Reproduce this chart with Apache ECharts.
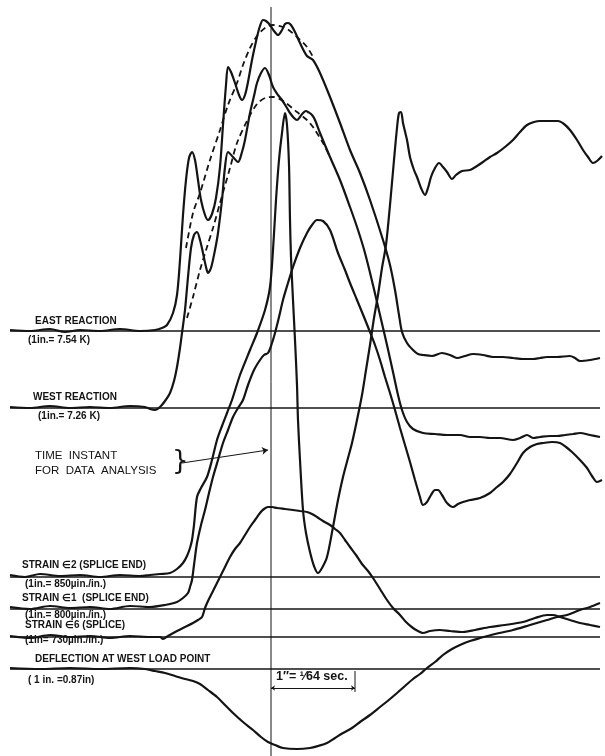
<!DOCTYPE html>
<html>
<head>
<meta charset="utf-8">
<script src="https://cdn.jsdelivr.net/npm/echarts@6/dist/echarts.min.js"></script>
<style>
html,body{margin:0;padding:0;background:#fff;}
#c{width:605px;height:756px;}
</style>
</head>
<body>
<div id="c"></div>
<script>
// Time axis: picture time units (x), trace level (y, measured downward)
var eastReaction = [[10,330],[30,331],[50,329],[65,332],[80,330],[100,331],[120,329],[140,331],[155,330],[162,328],[167,325],[173,313],[177,295],[180,260],[183,215],[186,180],[189,158],[192,152],[195,160],[198,180],[201,200],[205,215],[208,220],[212,214],[216,198],[220,167],[223,125],[226,85],[228,67],[231,72],[235,83],[239,95],[242,100],[245,95],[248,82],[252,60],[257,37],[260,26],[263,20],[266,21],[270,25],[274,31],[278,35],[282,30],[285,24],[288,23],[291,25],[295,32],[300,43],[307,56],[313,60],[320,73],[330,97],[340,123],[350,150],[360,173],[370,200],[383,240],[390,265],[395,290],[399,315],[402,332],[407,343],[413,350],[418,354],[423,355],[432,356],[442,353],[450,355],[457,358],[465,356],[473,354],[483,355],[493,357],[503,357],[513,358],[523,359],[533,359],[540,358],[547,357],[557,357],[570,356],[575,358],[580,361],[590,360],[600,358]];
var westReaction = [[10,407],[30,408],[50,406],[70,408],[90,407],[110,408],[130,406],[145,407],[150,409],[155,410],[160,407],[165,401],[170,393],[174,381],[177,367],[180,348],[182,333],[185,310],[188,277],[191,248],[194,235],[197,232],[200,240],[203,253],[206,267],[208,273],[211,268],[215,250],[218,233],[222,200],[225,167],[228,152],[233,157],[238,162],[242,152],[245,140],[250,113],[254,96],[257,83],[261,73],[265,68],[269,75],[273,87],[278,95],[282,100],[287,108],[290,113],[294,118],[297,120],[300,117],[303,113],[306,111],[308,112],[312,115],[315,120],[320,133],[330,157],[340,180],[350,207],[358,230],[365,253],[373,285],[380,315],[387,345],[393,372],[398,395],[402,410],[407,422],[413,429],[423,433],[435,434],[447,435],[460,435],[470,437],[480,437],[490,438],[500,438],[513,440],[520,438],[527,435],[533,438],[540,437],[550,436],[557,436],[565,435],[573,434],[580,433],[590,435],[600,437]];
var eastEnvelope = [[186,248],[193,213],[200,193],[210,160],[220,130],[228,105],[237,83],[243,65],[250,48],[257,36],[265,28],[273,25],[283,27],[290,31],[297,37],[307,47],[313,57]];
var westEnvelope = [[187,318],[193,297],[200,270],[207,247],[213,228],[220,203],[230,168],[237,143],[247,121],[257,104],[265,98],[273,97],[283,101],[297,112],[307,120],[313,127],[323,143],[330,157]];
var strainE2 = [[10,575],[25,577],[40,574],[60,576],[80,575],[100,577],[120,575],[140,576],[150,575],[160,574],[170,573],[177,569],[183,563],[187,556],[190,548],[192,540],[194,525],[197,497],[201,488],[207,477],[212,460],[217,440],[222,426],[227,413],[232,400],[240,375],[250,350],[257,333],[265,310],[270,287],[273,250],[276,200],[279,160],[282,133],[285,113],[287,125],[289,165],[290,220],[291,257],[293,300],[295,340],[297,385],[298,420],[300,460],[303,510],[306,533],[310,552],[314,566],[318,573],[322,568],[327,557],[333,527],[338,500],[343,477],[348,458],[352,443],[357,420],[362,395],[366,370],[370,345],[374,318],[378,295],[382,268],[386,245],[390,205],[394,160],[397,128],[399,113],[401,112],[403,123],[407,140],[410,157],[414,170],[417,177],[421,188],[425,195],[428,188],[431,177],[435,168],[439,163],[443,167],[447,172],[452,179],[456,175],[462,171],[470,170],[477,166],[483,162],[490,157],[497,153],[505,147],[513,140],[520,132],[527,125],[534,122],[540,121],[550,121],[558,121],[564,124],[570,130],[577,140],[583,150],[588,157],[593,163],[597,161],[602,156]];
var strainE1 = [[10,607],[30,609],[50,606],[70,608],[90,607],[110,609],[130,606],[150,607],[165,605],[177,602],[183,598],[188,593],[190,587],[192,580],[194,565],[197,543],[201,525],[205,510],[209,493],[213,477],[218,460],[223,443],[228,430],[233,417],[238,408],[243,400],[248,385],[254,370],[260,360],[264,355],[268,353],[272,343],[275,333],[279,317],[283,300],[288,283],[293,267],[300,248],[307,233],[312,225],[317,220],[323,221],[330,230],[338,253],[345,270],[350,283],[357,300],[364,317],[370,332],[375,345],[380,360],[385,377],[390,393],[395,410],[400,428],[405,445],[410,462],[415,480],[420,497],[423,505],[427,502],[431,495],[435,490],[438,490],[442,495],[447,503],[453,507],[458,504],[463,502],[470,500],[480,498],[490,493],[497,487],[503,482],[510,474],[517,463],[523,453],[530,447],[537,444],[543,443],[552,442],[560,443],[566,447],[572,452],[580,460],[587,468],[592,476],[597,482],[602,480]];
var strainE6 = [[10,636],[30,638],[50,635],[70,637],[90,636],[110,638],[130,636],[150,637],[160,637],[163,639],[168,636],[177,631],[185,627],[193,623],[198,620],[202,617],[205,608],[208,601],[212,593],[216,585],[220,577],[225,567],[230,557],[235,549],[240,543],[245,535],[250,527],[255,520],[260,513],[264,509],[268,507],[272,507],[277,508],[285,509],[293,510],[300,511],[307,512],[312,514],[317,517],[323,521],[330,525],[335,529],[340,533],[345,540],[350,547],[356,555],[362,564],[368,571],[373,578],[380,589],[387,600],[393,608],[400,615],[406,622],[413,628],[418,631],[423,633],[430,631],[440,630],[450,631],[463,632],[475,630],[490,627],[505,625],[523,622],[535,618],[547,615],[553,615],[560,617],[570,620],[580,623],[590,625],[600,627]];
var deflection = [[10,668],[40,669],[70,668],[100,669],[130,668],[145,669],[155,671],[165,673],[175,676],[185,679],[193,681],[200,684],[208,690],[217,697],[225,705],[233,713],[243,722],[253,730],[261,737],[268,742],[275,745],[283,748],[297,749],[310,748],[318,746],[327,743],[335,738],[343,733],[352,728],[360,722],[370,715],[380,707],[390,699],[397,693],[405,686],[413,679],[420,674],[427,668],[435,662],[443,655],[452,649],[460,645],[470,641],[480,638],[495,634],[513,630],[530,625],[547,620],[557,617],[567,615],[580,610],[590,607],[600,603]];
var baselineLevels = [331, 408, 577, 609, 637, 669];
var baselineSpan = [10, 600];
var timeInstant = 271;
var timeInstantSpan = [7, 756];
var scaleBar = [271, 355]; // 1 inch = 1/64 sec
var scaleBarLevel = 688;

var chart = echarts.init(document.getElementById('c'), null, {renderer:'canvas'});
var INK = '#141414';
var series = [];
function trace(name, data, dashed){
  series.push({type:'line', name:name, data:data, smooth:0.3, showSymbol:false, silent:true,
    lineStyle:{color:INK, width: dashed?1.8:2.2, type: dashed?[6,4]:'solid'}, z:3});
}
trace('East reaction', eastReaction);
trace('West reaction', westReaction);
trace('East envelope', eastEnvelope, true);
trace('West envelope', westEnvelope, true);
trace('Strain e2', strainE2);
trace('Strain e1', strainE1);
trace('Strain e6', strainE6);
trace('Deflection', deflection);
baselineLevels.forEach(function(lv){
  series.push({type:'line', data:[[baselineSpan[0],lv],[baselineSpan[1],lv]], showSymbol:false, silent:true,
    lineStyle:{color:INK, width:1.3}, z:2});
});
series.push({type:'line', data:[[timeInstant,timeInstantSpan[0]],[timeInstant,timeInstantSpan[1]]], showSymbol:false, silent:true,
  lineStyle:{color:INK, width:1}, z:2});
series.push({type:'lines', coordinateSystem:'cartesian2d', silent:true, z:4,
  symbol:['none','arrow'], symbolSize:6,
  lineStyle:{color:INK, width:1, opacity:1},
  data:[{coords:[[182,463],[268,450]]}]});
series.push({type:'lines', coordinateSystem:'cartesian2d', silent:true, z:4,
  symbol:['arrow','arrow'], symbolSize:4,
  lineStyle:{color:INK, width:1, opacity:1},
  data:[{coords:[[scaleBar[0],scaleBarLevel],[scaleBar[1],scaleBarLevel]]}]});
series.push({type:'line', data:[[scaleBar[1],671],[scaleBar[1],692]], showSymbol:false, silent:true,
  lineStyle:{color:INK, width:1}, z:2});

function txt(x,y,s,size,bold){
  return {type:'text', left:x, top:y-size*0.6, silent:true,
    style:{text:s, fill:INK, font:(bold?'bold ':'')+size+'px "Liberation Sans", Arial, sans-serif'}};
}
var texts = [
  txt(35,322.5,'EAST REACTION',10,true),
  txt(28,341,'(1in.= 7.54 K)',10,true),
  txt(33,398.5,'WEST REACTION',10,true),
  txt(38,417.5,'(1in.= 7.26 K)',10,true),
  txt(35,457,'TIME  INSTANT',11.5,false),
  txt(35,472,'FOR  DATA  ANALYSIS',11.5,false),
  txt(22,566.5,'STRAIN \u22082 (SPLICE END)',10,true),
  txt(25,585.5,'(1in.= 850\u00B5in./in.)',10,true),
  txt(22,599.5,'STRAIN \u22081  (SPLICE END)',10,true),
  txt(25,616,'(1in.= 800\u00B5in./in.)',10,true),
  txt(25,626,'STRAIN \u22086 (SPLICE)',10,true),
  txt(25,641.5,'(1in= 730\u00B5in./in.)',10,true),
  txt(35,660.5,'DEFLECTION AT WEST LOAD POINT',10,true),
  txt(28,681,'( 1 in. =0.87in)',10,true),
  txt(276,678,'1\u2033= \u00B9\u204464 sec.',12.5,true),
  {type:'text', left:172, top:449, silent:true, style:{text:'}', fill:INK, font:'26px "DejaVu Sans", sans-serif'}}
];

chart.setOption({
  animation:false,
  backgroundColor:'#ffffff',
  grid:{left:0,right:0,top:0,bottom:0},
  xAxis:{type:'value', min:0, max:605, show:false},
  yAxis:{type:'value', min:0, max:756, inverse:true, show:false},
  series:series,
  graphic:texts
});
</script>
</body>
</html>
